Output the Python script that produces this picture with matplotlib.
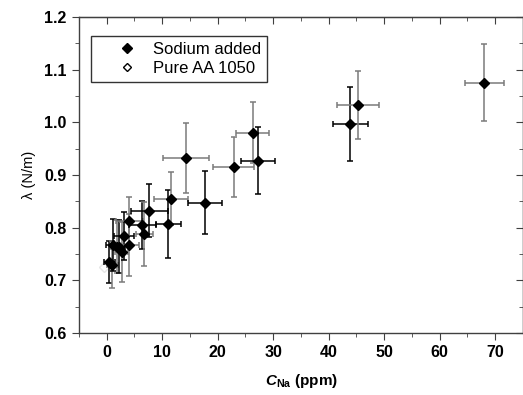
import matplotlib
matplotlib.use("Agg")
import matplotlib.pyplot as plt
from matplotlib.ticker import MultipleLocator

plt.rcParams["font.family"] = ["Liberation Sans", "DejaVu Sans"]
plt.rcParams["mathtext.fontset"] = "custom"
plt.rcParams["mathtext.it"] = "Liberation Sans:italic:bold"
plt.rcParams["mathtext.rm"] = "Liberation Sans:bold"
plt.rcParams["mathtext.bf"] = "Liberation Sans:bold"

# --- data ---
c_na = [0.5, 1.0, 1.1, 1.8, 2.3, 2.7, 3.2, 4.1, 4.1, 6.4, 6.8, 7.7,
        11.1, 11.6, 14.3, 17.7, 22.9, 26.3, 27.3, 43.9, 45.2, 68.0]
lam = [0.735, 0.730, 0.767, 0.764, 0.764, 0.754, 0.784, 0.767, 0.813, 0.805, 0.788, 0.832,
       0.807, 0.855, 0.932, 0.847, 0.915, 0.980, 0.927, 0.997, 1.033, 1.075]
x_err = [1.0, 1.0, 1.2, 1.0, 1.0, 1.2, 1.8, 1.8, 2.5, 2.4, 1.5, 3.4,
         2.3, 3.1, 4.1, 3.0, 3.7, 3.0, 3.1, 3.2, 3.8, 3.5]
y_err = [0.040, 0.045, 0.050, 0.050, 0.050, 0.057, 0.045, 0.058, 0.045, 0.045, 0.061, 0.050,
         0.065, 0.050, 0.066, 0.060, 0.057, 0.058, 0.064, 0.070, 0.065, 0.073]
bar_gray = [False, True, False, True, False, True, False, True, True, False, True, False,
            False, True, True, False, True, True, False, False, True, True]

pure_x = [-0.5]
pure_y = [0.725]

fig = plt.figure(figsize=(5.23, 3.95), dpi=100)
ax = fig.add_axes([0.151, 0.157, 0.849, 0.80])

for x, y, xe, ye, g in zip(c_na, lam, x_err, y_err, bar_gray):
    ax.errorbar(x, y, xerr=xe, yerr=ye, fmt="none",
                ecolor="#7a7a7a" if g else "black",
                elinewidth=1.1, capsize=2.5, capthick=1.1, zorder=2)

ax.plot(pure_x, pure_y, linestyle="none", marker="D", markersize=5,
        markerfacecolor="white", markeredgecolor="#e6e6e6", zorder=1)
ax.plot(c_na, lam, linestyle="none", marker="D", markersize=5.5,
        color="black", zorder=3, label="Sodium added")
ax.plot([], [], linestyle="none", marker="D", markersize=4.5,
        markerfacecolor="white", markeredgecolor="black", label="Pure AA 1050")

ax.set_xlim(-5, 75)
ax.set_ylim(0.6, 1.2)
ax.xaxis.set_major_locator(MultipleLocator(10))
ax.xaxis.set_minor_locator(MultipleLocator(5))
ax.yaxis.set_major_locator(MultipleLocator(0.1))
ax.yaxis.set_minor_locator(MultipleLocator(0.05))
ax.yaxis.set_major_formatter(plt.FormatStrFormatter("%.1f"))

for side in ax.spines.values():
    side.set_color("#404040")
    side.set_linewidth(1.0)

ax.tick_params(which="both", direction="out", top=False, right=False,
               color="#404040", labelsize=11.5, pad=4)
ax.tick_params(which="major", length=5)
ax.tick_params(which="minor", length=3)
for lbl in ax.get_xticklabels() + ax.get_yticklabels():
    lbl.set_fontweight("bold")

# inward ticks on top and right
sec_x = ax.secondary_xaxis("top")
sec_x.xaxis.set_major_locator(MultipleLocator(10))
sec_x.xaxis.set_minor_locator(MultipleLocator(5))
sec_x.tick_params(which="both", direction="in", labeltop=False, color="#404040")
sec_x.tick_params(which="major", length=5)
sec_x.tick_params(which="minor", length=3)
sec_y = ax.secondary_yaxis("right")
sec_y.yaxis.set_major_locator(MultipleLocator(0.1))
sec_y.yaxis.set_minor_locator(MultipleLocator(0.05))
sec_y.tick_params(which="both", direction="in", labelright=False, color="#404040")
sec_y.tick_params(which="major", length=5)
sec_y.tick_params(which="minor", length=3)

ax.set_xlabel(r"$C_{\mathrm{Na}}$ (ppm)", fontsize=11, fontweight="bold", labelpad=8)
ax.set_ylabel("λ (N/m)", fontsize=10.5, labelpad=6)

leg = ax.legend(loc="upper left", bbox_to_anchor=(0.027, 0.94), borderaxespad=0,
                fontsize=12, frameon=True, fancybox=False, edgecolor="black",
                borderpad=0.35, handletextpad=-0.25, labelspacing=0.25, handlelength=3.6)
leg.get_frame().set_linewidth(1.0)

fig.savefig("out.png", dpi=100)
